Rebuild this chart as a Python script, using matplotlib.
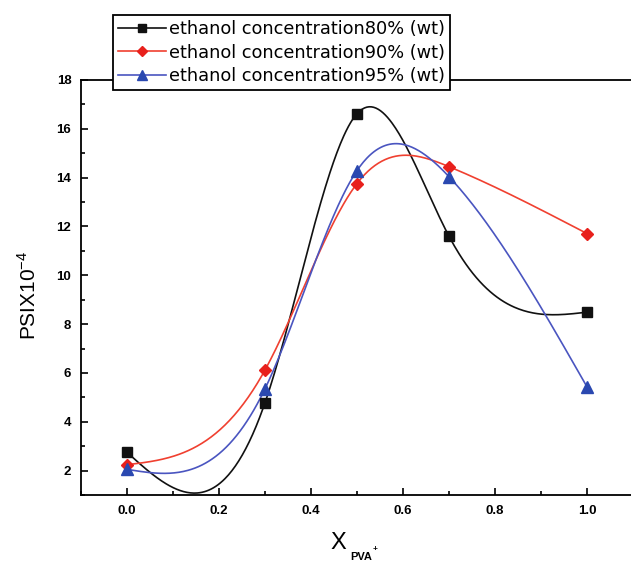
import numpy as np
import matplotlib
matplotlib.use("Agg")
import matplotlib.pyplot as plt
from matplotlib.ticker import MultipleLocator, FormatStrFormatter

# PVA mole fraction and PSI (x10^-4) for each ethanol concentration
x_pva = [0.0, 0.3, 0.5, 0.7, 1.0]
psi_80 = [2.75, 4.78, 16.62, 11.6, 8.49]
psi_90 = [2.24, 6.12, 13.76, 14.45, 11.71]
psi_95 = [2.05, 5.35, 14.29, 14.04, 5.43]

labels = ["ethanol concentration80% (wt)",
          "ethanol concentration90% (wt)",
          "ethanol concentration95% (wt)"]

x_ticks = [0.0, 0.2, 0.4, 0.6, 0.8, 1.0]
y_ticks = [2, 4, 6, 8, 10, 12, 14, 16, 18]


def natural_spline(x, y, xs):
    """Natural cubic spline through (x, y) evaluated at xs."""
    x = np.asarray(x, float)
    y = np.asarray(y, float)
    n = len(x)
    h = np.diff(x)
    A = np.zeros((n, n))
    b = np.zeros(n)
    A[0, 0] = A[-1, -1] = 1.0
    for i in range(1, n - 1):
        A[i, i - 1] = h[i - 1]
        A[i, i] = 2 * (h[i - 1] + h[i])
        A[i, i + 1] = h[i]
        b[i] = 6 * ((y[i + 1] - y[i]) / h[i] - (y[i] - y[i - 1]) / h[i - 1])
    M = np.linalg.solve(A, b)
    idx = np.clip(np.searchsorted(x, xs) - 1, 0, n - 2)
    x0, x1 = x[idx], x[idx + 1]
    hh = x1 - x0
    t0 = x1 - xs
    t1 = xs - x0
    return (M[idx] * t0 ** 3 / (6 * hh) + M[idx + 1] * t1 ** 3 / (6 * hh)
            + (y[idx] / hh - M[idx] * hh / 6) * t0
            + (y[idx + 1] / hh - M[idx + 1] * hh / 6) * t1)


fig = plt.figure(figsize=(6.31, 5.65), dpi=100)
ax = fig.add_axes([81 / 631, 70 / 565, 552 / 631, 415 / 565])

xs = np.linspace(x_pva[0], x_pva[-1], 400)
series = [
    (psi_80, "#111111", "#111111", "s", 7),
    (psi_90, "#f04030", "#e8201c", "D", 6.5),
    (psi_95, "#4a55c0", "#2a48b0", "^", 8.5),
]
handles = []
for (vals, lc, mc, mk, ms), lab in zip(series, labels):
    ax.plot(xs, natural_spline(x_pva, vals, xs), color=lc, lw=1.2, zorder=2)
    ax.plot(x_pva, vals, ls="none", marker=mk, ms=ms, color=mc, zorder=3)
    h, = ax.plot([], [], color=lc, lw=1.2, marker=mk, ms=ms * 0.8,
                 mfc=mc, mec=mc, label=lab)
    handles.append(h)

ax.set_xlim(-0.1, 1.1)
ax.set_ylim(1, 18)
ax.set_xticks(x_ticks)
ax.set_yticks(y_ticks)
ax.xaxis.set_minor_locator(MultipleLocator(0.1))
ax.yaxis.set_minor_locator(MultipleLocator(1))
ax.xaxis.set_major_formatter(FormatStrFormatter("%.1f"))
ax.tick_params(which="both", direction="in", top=False, right=False,
               width=1.2, labelsize=9.5, colors="black")
ax.tick_params(which="major", length=5, pad=7)
ax.tick_params(which="minor", length=3)
for lbl in ax.get_xticklabels() + ax.get_yticklabels():
    lbl.set_fontweight("bold")
    lbl.set_family("Liberation Sans")
for sp in ax.spines.values():
    sp.set_linewidth(1.3)

fig.text(29 / 631, 1 - 295 / 565, r"PSIX10$^{\mathregular{-4}}$", rotation=90,
         ha="center", va="center", fontsize=15, family="Liberation Sans")
fig.text(338 / 631, 1 - 543 / 565, "X", ha="center", va="center",
         fontsize=17, family="Liberation Sans")
fig.text(350 / 631, 1 - 557 / 565, "PVA", ha="left", va="center",
         fontsize=8, fontweight="bold", family="Liberation Sans")
fig.text(373 / 631, 1 - 550 / 565, "+", ha="left", va="center",
         fontsize=6, fontweight="bold", family="Liberation Sans")

leg = fig.legend(handles=handles, loc="upper left",
                 bbox_to_anchor=(113 / 631, 1 - 15 / 565),
                 prop={"family": "DejaVu Sans", "size": 12.8},
                 frameon=True, fancybox=False, framealpha=1,
                 edgecolor="black", handlelength=2.7, handletextpad=0.15,
                 borderpad=0.3, labelspacing=0.3, borderaxespad=0)
leg.get_frame().set_linewidth(1.3)

fig.savefig("out.png", dpi=100)
